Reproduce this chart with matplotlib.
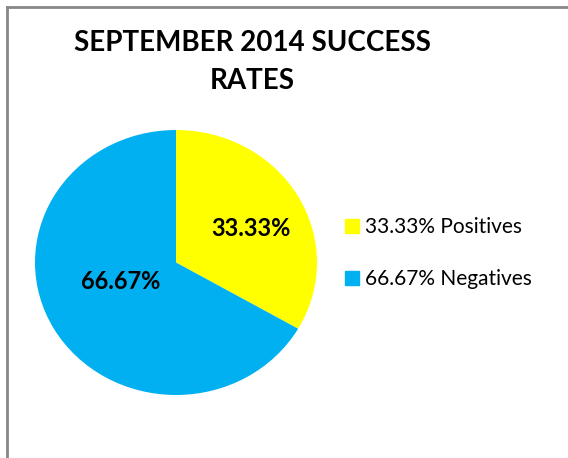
import numpy as np
import matplotlib
matplotlib.use("Agg")
from matplotlib import pyplot as plt
from matplotlib.lines import Line2D

TITLE = "SEPTEMBER 2014 SUCCESS\nRATES"
categories = ["Positives", "Negatives"]
shares = [33.33, 66.67]
colors = ["#FFFF00", "#00B0F0"]

W, H = 568, 458
plt.rcParams["font.family"] = ["Lato", "DejaVu Sans"]

fig = plt.figure(figsize=(W / 100, H / 100), dpi=100)

# frame border on top and left like the clipped chart area
fig.add_artist(Line2D([7 / W, 1], [1 - 7 / H, 1 - 7 / H], color="#888888", lw=2, transform=fig.transFigure))
fig.add_artist(Line2D([7 / W, 7 / W], [0, 1 - 7 / H], color="#888888", lw=2, transform=fig.transFigure))

fig.text(252 / W, 1 - 62 / H, TITLE, ha="center", va="center", fontsize=20, fontweight="bold", linespacing=1.6)

# pie is a little wider than tall in the reference
ax = fig.add_axes([35 / W, 63 / H, 282 / W, 265 / H])
wedges, texts, autotexts = ax.pie(shares, colors=colors, startangle=90, counterclock=False,
                                  autopct="%.2f%%", pctdistance=0.6,
                                  textprops=dict(fontsize=17, fontweight="bold", color="black"))
ax.set_aspect("auto")
ax.set_xlim(-1, 1); ax.set_ylim(-1, 1)
# nudge labels like Excel's best fit
for t, (r, ang) in zip(autotexts, [(0.59, 26), (0.42, 200)]):
    t.set_position((r * np.cos(np.radians(ang)), r * np.sin(np.radians(ang))))

handles = [Line2D([], [], marker="s", ls="", markersize=10, markerfacecolor=c, markeredgecolor=c) for c in colors]
labels = [f"{v:.2f}% {n}" for v, n in zip(shares, categories)]
fig.legend(handles, labels, loc="center left", bbox_to_anchor=(323 / W, 1 - 253 / H), frameon=False,
           fontsize=15, handletextpad=0.1, labelspacing=1.55, handlelength=1.0)

fig.savefig("out.png", dpi=100)
